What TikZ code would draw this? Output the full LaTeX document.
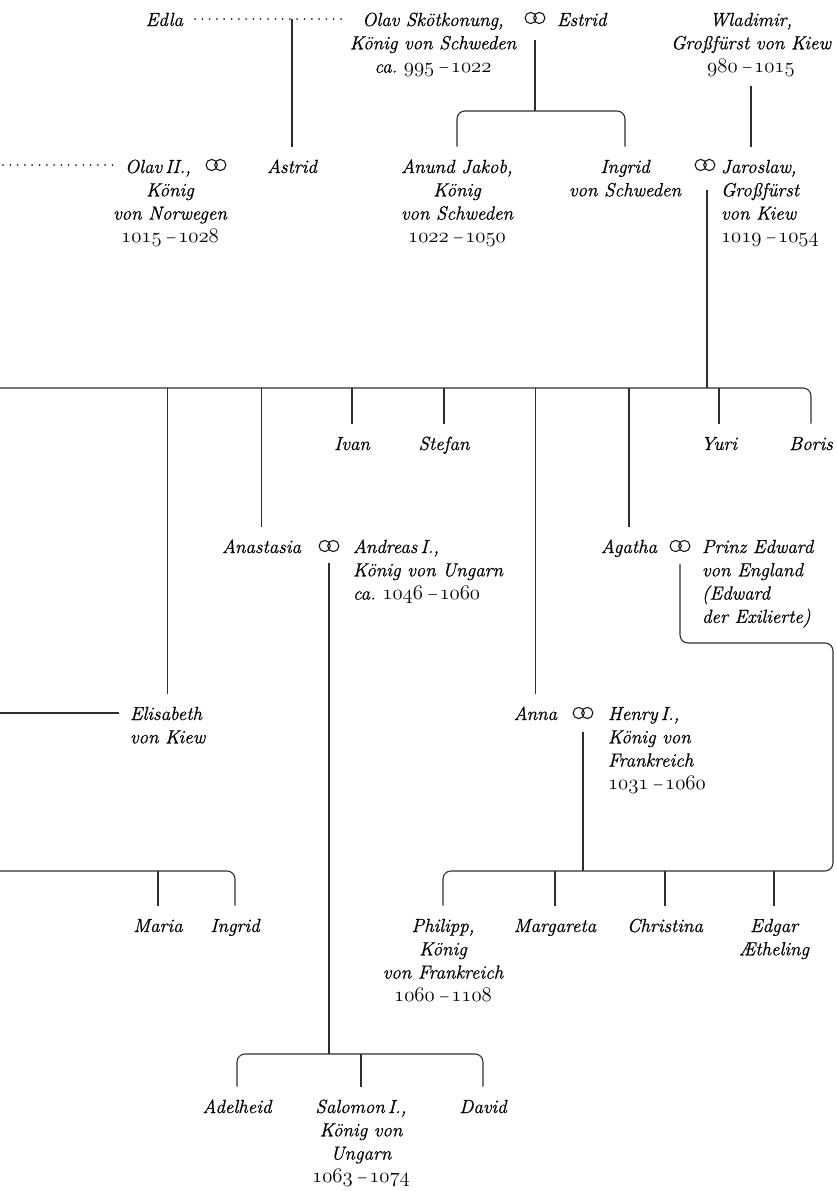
\documentclass[tikz,border=0pt]{standalone}
\usepackage{fontspec}
\setmainfont{Latin Modern Roman}[ItalicFeatures={FakeBold=0.7}]
\newcommand\osf[1]{{\fontsize{20.74}{23.3}\usefont{OML}{cmm}{m}{it}#1}}
\newcommand\yrs[2]{\osf{#1}\hspace{3.5pt}–\hspace{3.5pt}\osf{#2}}
\newcommand\cblock[1]{\begin{tabular}[t]{@{}c@{}}#1\end{tabular}}
\newcommand\lblock[1]{\begin{tabular}[t]{@{}l@{}}#1\end{tabular}}
\begin{document}
\begin{tikzpicture}[x=1pt,y=-1pt,
  txt/.style={inner sep=0pt, outer sep=0pt, font=\fontsize{19}{23.3}\selectfont\itshape},
  ln/.style={draw=black!82, line width=1.1pt},
  dotl/.style={draw=black!85, line width=2pt, line cap=round, dash pattern=on 0pt off 7.3pt},
  marr/.style={inner sep=0pt, outer sep=0pt, minimum width=24pt, minimum height=15pt,
    path picture={\draw[black!90, line width=1.1pt]
      ([xshift=-4.3pt]path picture bounding box.center) circle (5.6pt)
      ([xshift=4.3pt]path picture bounding box.center) circle (5.6pt);}},
  rc/.style={rounded corners=8pt}]
\useasboundingbox (0,0) rectangle (837,1191);

% ---- generation 1
\node[txt, anchor=base east] (edla) at (183,26) {\cblock{Edla}};
\node[txt, anchor=base] (olavs) at (433,26) {\cblock{Olav Skötkonung,\\König von Schweden\\ca.~\yrs{995}{1022}}};
\node[marr] (m1) at (535,18) {};
\node[txt, anchor=base west] (estrid) at (557,26) {\cblock{Estrid}};
\node[txt, anchor=base] (wlad) at (751,26) {\cblock{Wladimir,\\Großfürst von Kiew\\\yrs{980}{1015}}};

% ---- generation 2
\node[txt, anchor=base] (olav2) at (170,173) {\cblock{Olav\,II.,\hspace*{24pt}\\König\\von Norwegen\\\yrs{1015}{1028}}};
\node[marr] (m2) at (216,165) {};
\node[txt, anchor=base] (astrid) at (292,173) {\cblock{Astrid}};
\node[txt, anchor=base] (anund) at (457,173) {\cblock{Anund Jakob,\\König\\von Schweden\\\yrs{1022}{1050}}};
\node[txt, anchor=base] (ingrid1) at (625,173) {\cblock{Ingrid\\von Schweden}};
\node[marr] (m3) at (705,165) {};
\node[txt, anchor=base west] (jaro) at (721,173) {\lblock{Jaroslaw,\\Großfürst\\von Kiew\\\yrs{1019}{1054}}};

% ---- generation 3
\node[txt, anchor=base] (ivan) at (352,450) {\cblock{Ivan}};
\node[txt, anchor=base] (stefan) at (444,450) {\cblock{Stefan}};
\node[txt, anchor=base] (yuri) at (719,450) {\cblock{Yuri}};
\node[txt, anchor=base] (boris) at (811,450) {\cblock{Boris}};

\node[txt, anchor=base east] (anast) at (301,553) {\cblock{Anastasia}};
\node[marr] (m4) at (329,546) {};
\node[txt, anchor=base west] (andreas) at (353,553) {\lblock{Andreas\,I.,\\König von Ungarn\\ca.~\yrs{1046}{1060}}};
\node[txt, anchor=base east] (agatha) at (657,553) {\cblock{Agatha}};
\node[marr] (m5) at (680,546) {};
\node[txt, anchor=base west] (edward) at (702,553) {\lblock{Prinz Edward\\von England\\(Edward\\der Exilierte)}};

\node[txt, anchor=base west] (elis) at (130,720) {\lblock{Elisabeth\\von Kiew}};
\node[txt, anchor=base east] (anna) at (557,720) {\cblock{Anna}};
\node[marr] (m6) at (583,713) {};
\node[txt, anchor=base west] (henry) at (608,720) {\lblock{Henry\,I.,\\König von\\Frankreich\\\yrs{1031}{1060}}};

% ---- generation 4
\node[txt, anchor=base] (maria) at (158,932) {\cblock{Maria}};
\node[txt, anchor=base] (ingrid2) at (235,932) {\cblock{Ingrid}};
\node[txt, anchor=base] (philipp) at (443,932) {\cblock{Philipp,\\König\\von Frankreich\\\yrs{1060}{1108}}};
\node[txt, anchor=base] (margareta) at (555,932) {\cblock{Margareta}};
\node[txt, anchor=base] (christina) at (665,932) {\cblock{Christina}};
\node[txt, anchor=base] (edgar) at (774,932) {\cblock{Edgar\\Ætheling}};

\node[txt, anchor=base] (adel) at (237,1113) {\cblock{Adelheid}};
\node[txt, anchor=base] (salomon) at (361,1113) {\cblock{Salomon\,I.,\\König von\\Ungarn\\\yrs{1063}{1074}}};
\node[txt, anchor=base] (david) at (483,1113) {\cblock{David}};

% ---- tops of children
\foreach \n in {astrid,anund,ingrid1,jaro,ivan,stefan,yuri,boris,elis,anast,anna,agatha,maria,ingrid2,philipp,margareta,christina,edgar,adel,salomon,david}
  \coordinate (\n-t) at ([yshift=10pt]\n.north);

% ---- Edla ... Olav Skötkonung
\coordinate (e1) at ([shift={(12,-7)}]edla.base east);
\draw[dotl] (e1) -- ([shift={(-3,-7)}]olavs.base west);
\draw[ln] (astrid-t |- e1) -- (astrid-t);

% ---- dotted line to Olav II.
\coordinate (o2l) at (3,165);
\draw[dotl] (o2l) -- ([shift={(-52,-8)}]olav2.base);

% ---- Olav Skötkonung + Estrid
\coordinate (m1b) at ([yshift=-22pt]m1.center);
\coordinate (bar1) at (m1b |- 0,111);
\draw[ln] (m1b) -- (bar1);
\draw[ln, rc] (anund-t) |- (ingrid1-t |- bar1) -- (ingrid1-t);

% ---- Wladimir -> Jaroslaw
\draw[ln] ([yshift=-6pt]wlad.south) -- (wlad.south |- jaro-t);

% ---- Ingrid + Jaroslaw
\coordinate (m3b) at ([shift={(2,25)}]m3.center);
\coordinate (bar3) at (m3b |- 0,388);
\coordinate (bar3l) at (0,388);
\draw[ln] (m3b) -- (bar3);
\draw[ln, rc] (bar3l) -| (boris-t);
\foreach \c in {elis,anast,ivan,stefan,anna,agatha,yuri}
  \draw[ln] (\c-t |- bar3) -- (\c-t);

% ---- Anastasia + Andreas
\coordinate (m4b) at ([yshift=-17pt]m4.center);
\coordinate (bar7) at (m4b |- 0,1054);
\draw[ln] (m4b) -- (bar7);
\draw[ln, rc] (adel-t) |- (david-t |- bar7) -- (david-t);
\draw[ln] (salomon-t |- bar7) -- (salomon-t);

% ---- Agatha + Edward, Anna + Henry
\coordinate (m5b) at ([yshift=-18pt]m5.center);
\coordinate (m6b) at ([yshift=-19pt]m6.center);
\coordinate (rt) at (833,643);
\coordinate (bar6) at (m6b |- 0,871);
\draw[ln, rc] (m5b) |- (rt) -- (rt |- bar6) -| (philipp-t);
\draw[ln] (m6b) -- (bar6);
\foreach \c in {margareta,christina,edgar}
  \draw[ln] (\c-t |- bar6) -- (\c-t);

% ---- Elisabeth line
\coordinate (elisl) at (0,713);
\draw[ln] (elisl) -- ([shift={(-11,-7)}]elis.base west);

% ---- Maria, Ingrid
\coordinate (bar6l) at (0,871);
\draw[ln, rc] (bar6l) -| (ingrid2-t);
\draw[ln] (maria-t |- bar6l) -- (maria-t);
\end{tikzpicture}
\end{document}
